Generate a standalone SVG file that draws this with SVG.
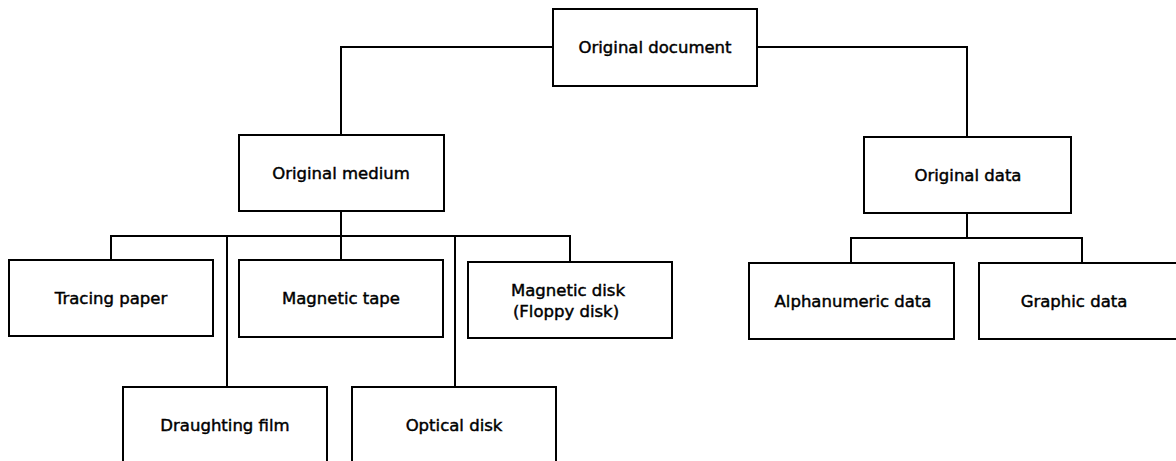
<svg xmlns="http://www.w3.org/2000/svg" width="1176" height="461" viewBox="0 0 1176 461">
<style>
.box{fill:#fff;stroke:#000;stroke-width:2}
.ln{fill:none;stroke:#000;stroke-width:2}
text{font-family:"DejaVu Sans","Liberation Sans",sans-serif;font-size:16.5px;fill:#000;stroke:#000;stroke-width:0.45;text-anchor:middle;dominant-baseline:central}
</style>
<rect width="1176" height="461" fill="#fff"/>
<g id="connectors">
<path class="ln" d="M553 47 H341 V135"/>
<path class="ln" d="M757 47 H967 V137"/>
<path class="ln" d="M341 211 V236"/>
<path class="ln" d="M111 260 V236 H570 V262"/>
<path class="ln" d="M227 236 V387"/>
<path class="ln" d="M341 236 V260"/>
<path class="ln" d="M455 236 V387"/>
<path class="ln" d="M967 213 V238"/>
<path class="ln" d="M851 263 V238 H1082 V263"/>
</g>
<g id="n-doc"><rect class="box" x="553" y="9" width="204" height="77"/><text x="655" y="47">Original document</text></g>
<g id="n-medium"><rect class="box" x="239" y="135" width="205" height="76"/><text x="341" y="173">Original medium</text></g>
<g id="n-data"><rect class="box" x="864" y="137" width="207" height="76"/><text x="968" y="175">Original data</text></g>
<g id="n-tracing"><rect class="box" x="9" y="260" width="204" height="76"/><text x="111" y="298">Tracing paper</text></g>
<g id="n-tape"><rect class="box" x="239" y="260" width="204" height="77"/><text x="341" y="298">Magnetic tape</text></g>
<g id="n-disk"><rect class="box" x="468" y="262" width="204" height="76"/><text x="568" y="290">Magnetic disk</text><text x="566" y="311">(Floppy disk)</text></g>
<g id="n-film"><rect class="box" x="123" y="387" width="204" height="90"/><text x="225" y="425">Draughting film</text></g>
<g id="n-optical"><rect class="box" x="352" y="387" width="204" height="90"/><text x="454" y="425">Optical disk</text></g>
<g id="n-alpha"><rect class="box" x="749" y="263" width="205" height="76"/><text x="853" y="301">Alphanumeric data</text></g>
<g id="n-graphic"><rect class="box" x="979" y="263" width="205" height="76"/><text x="1074" y="301">Graphic data</text></g>
</svg>
